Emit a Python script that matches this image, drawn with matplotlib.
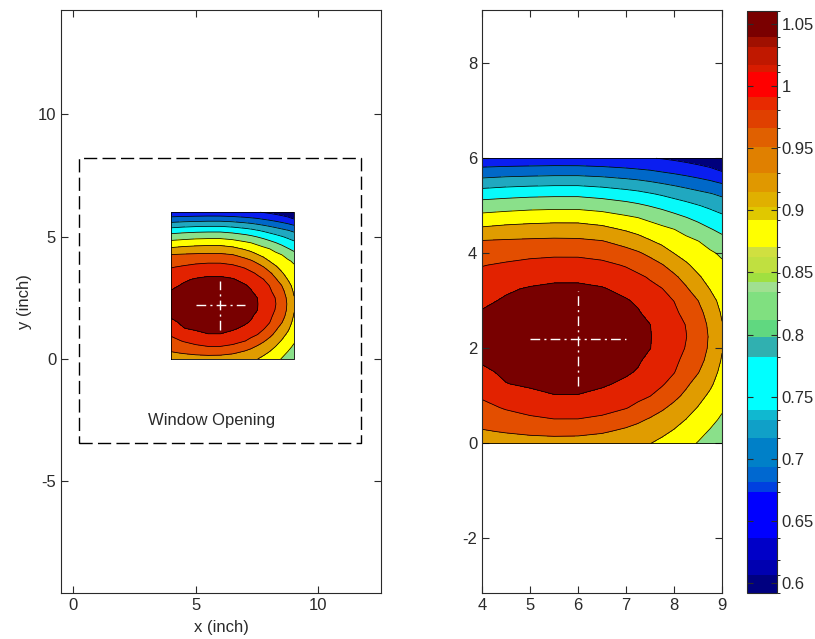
import numpy as np
import matplotlib
matplotlib.use("Agg")
import matplotlib.pyplot as plt
from matplotlib.colors import ListedColormap, BoundaryNorm
from matplotlib.cm import ScalarMappable

plt.rcParams["font.family"] = ["Liberation Sans", "DejaVu Sans"]
plt.rcParams["axes.unicode_minus"] = False

# ---- measured field, read off the picture: one list per x column,
#      values at y = 0, 0.25, ..., 6 inch (bottom to top) ----
x_grid = [4.0, 4.5, 5.0, 5.5, 6.0, 6.5, 7.0, 7.25, 7.5, 7.75, 8.0, 8.25, 8.5, 8.75, 9.0]
y_grid = [0.0, 0.25, 0.5, 0.75, 1.0, 1.25, 1.5, 1.75, 2.0, 2.25, 2.5, 2.75,
          3.0, 3.25, 3.5, 3.75, 4.0, 4.25, 4.5, 4.75, 5.0, 5.25, 5.5, 5.75, 6.0]
col_x400 = [0.930, 0.9516, 0.970, 0.9879, 1.0055, 1.0225, 1.0395, 1.0482, 1.0511,
            1.052, 1.0508, 1.0475, 1.0386, 1.0254, 1.0122, 0.9984, 0.9783, 0.9582,
            0.9187, 0.880, 0.8417, 0.7985, 0.7471, 0.6967, 0.650]
col_x450 = [0.935, 0.9578, 0.9813, 1.004, 1.0241, 1.0442, 1.0498, 1.0533, 1.0554,
            1.056, 1.0551, 1.0528, 1.0489, 1.0408, 1.0232, 1.0056, 0.9841, 0.9606,
            0.9255, 0.8859, 0.8464, 0.8043, 0.7536, 0.700, 0.652]
col_x500 = [0.938, 0.9631, 0.9919, 1.0156, 1.0372, 1.0492, 1.0544, 1.0582, 1.0603,
            1.061, 1.0601, 1.0576, 1.0536, 1.048, 1.0333, 1.0125, 0.9893, 0.9625,
            0.9289, 0.8907, 0.8505, 0.8083, 0.757, 0.7021, 0.653]
col_x550 = [0.937, 0.9675, 0.9988, 1.0216, 1.0441, 1.0517, 1.0572, 1.0611, 1.0633,
            1.064, 1.063, 1.0605, 1.0563, 1.0505, 1.0395, 1.0165, 0.9921, 0.964,
            0.9311, 0.8933, 0.8521, 0.8102, 0.7593, 0.7043, 0.653]
col_x600 = [0.936, 0.9666, 0.9987, 1.0216, 1.0441, 1.0519, 1.0575, 1.0615, 1.0638,
            1.0645, 1.0635, 1.0609, 1.0566, 1.0506, 1.0395, 1.0165, 0.9919, 0.9631,
            0.9305, 0.8933, 0.8521, 0.8102, 0.7593, 0.7043, 0.652]
col_x650 = [0.930, 0.960, 0.9913, 1.0153, 1.0365, 1.0492, 1.0549, 1.0589, 1.0613,
            1.062, 1.061, 1.0583, 1.054, 1.0479, 1.032, 1.0104, 0.9854, 0.9573,
            0.9227, 0.8852, 0.8457, 0.8031, 0.7536, 0.700, 0.650]
col_x700 = [0.922, 0.9463, 0.9739, 1.0022, 1.0207, 1.0391, 1.0491, 1.0536, 1.0562,
            1.057, 1.0559, 1.0529, 1.048, 1.0353, 1.0165, 0.9968, 0.970, 0.940,
            0.9059, 0.8718, 0.835, 0.793, 0.7443, 0.6932, 0.647]
col_x725 = [0.917, 0.9391, 0.9627, 0.9901, 1.0103, 1.0264, 1.0424, 1.0489, 1.0517,
            1.0525, 1.0514, 1.0482, 1.0398, 1.0235, 1.0072, 0.9857, 0.9601, 0.9285,
            0.8963, 0.865, 0.8275, 0.7867, 0.739, 0.689, 0.645]
col_x750 = [0.911, 0.931, 0.951, 0.9759, 1.001, 1.0131, 1.0252, 1.0373, 1.0457,
            1.0465, 1.0454, 1.0347, 1.0225, 1.0103, 0.9962, 0.9722, 0.946, 0.9139,
            0.8853, 0.8548, 0.8184, 0.7782, 0.7319, 0.6848, 0.642]
col_x775 = [0.8995, 0.9196, 0.9397, 0.9605, 0.9835, 1.0045, 1.0181, 1.0277, 1.0333,
            1.035, 1.0327, 1.0263, 1.0158, 1.0013, 0.9797, 0.9576, 0.929, 0.9008,
            0.8752, 0.8445, 0.8091, 0.7696, 0.7244, 0.6778, 0.638]
col_x800 = [0.888, 0.9063, 0.9258, 0.9455, 0.9649, 0.984, 1.0021, 1.0129, 1.0191,
            1.021, 1.0184, 1.0112, 0.9993, 0.9808, 0.9624, 0.9381, 0.910, 0.8879,
            0.8659, 0.8332, 0.7982, 0.760, 0.7169, 0.6712, 0.633]
col_x825 = [0.8755, 0.8924, 0.9093, 0.928, 0.9468, 0.9616, 0.9733, 0.985, 0.9975,
            1.0015, 0.9985, 0.983, 0.9715, 0.960, 0.941, 0.916, 0.8955, 0.8764,
            0.8525, 0.8213, 0.7882, 0.7509, 0.7084, 0.6642, 0.627]
col_x850 = [0.863, 0.8764, 0.8923, 0.9081, 0.9246, 0.9411, 0.9571, 0.9679, 0.9741,
            0.976, 0.9735, 0.9667, 0.9555, 0.9354, 0.9149, 0.898, 0.8821, 0.8663,
            0.8385, 0.8088, 0.7775, 0.7416, 0.6994, 0.6567, 0.620]
col_x875 = [0.847, 0.862, 0.8757, 0.8891, 0.9025, 0.9179, 0.9326, 0.943, 0.9492,
            0.951, 0.948, 0.9399, 0.9267, 0.909, 0.8963, 0.8837, 0.8711, 0.8507,
            0.8233, 0.7959, 0.7668, 0.7327, 0.6902, 0.6496, 0.608]
col_x900 = [0.830, 0.8446, 0.8592, 0.8704, 0.8794, 0.8884, 0.8974, 0.9064, 0.9125,
            0.914, 0.9119, 0.905, 0.8966, 0.8882, 0.8798, 0.8714, 0.8591, 0.8347,
            0.8098, 0.7842, 0.755, 0.7217, 0.6796, 0.6352, 0.595]

levels = [0.45, 0.64, 0.685, 0.73, 0.775, 0.82, 0.865, 0.91, 0.955, 1.0, 1.045, 1.08]
band_colors = ["#00007c", "#0a1ef0", "#0068c8", "#20a8c0", "#08fafa", "#8ae08a",
               "#ffff00", "#e09c00", "#e34e00", "#e22200", "#780000"]

# colorbar steps (value boundaries, bottom to top) and their colours
cbar_bounds = [0.592, 0.6064, 0.6184, 0.6362, 0.6732, 0.6812, 0.6933, 0.7167,
               0.7312, 0.7392, 0.7819, 0.798, 0.8117, 0.8342, 0.8423, 0.8495,
               0.8624, 0.8704, 0.8922, 0.9027, 0.9147, 0.930, 0.951, 0.9663,
               0.9808, 0.9912, 1.0113, 1.017, 1.0315, 1.0395, 1.0605]
cbar_colors = ["#000080", "#0000b0", "#0000c8", "#0000ff", "#0040e0", "#0068d0",
               "#0080c8", "#10a0c8", "#10b8d0", "#00ffff", "#30b0b0", "#60d880",
               "#80e080", "#a0e090", "#a0e040", "#c0e040", "#d0e040", "#ffff00",
               "#e0c800", "#e0b000", "#e09800", "#e08000", "#e06000", "#e04000",
               "#e82a00", "#ff0000", "#d81c00", "#c01800", "#a01000", "#7a0000"]
cbar_ticks = [0.6, 0.65, 0.7, 0.75, 0.8, 0.85, 0.9, 0.95, 1.0, 1.05]

# window opening outline (x0, x1, y0, y1) and crosshair arms
window = [0.25, 11.75, -3.44, 8.22]
cross_x = [5.0, 7.0]
cross_y = [1.2, 3.2]
cross_c = [6.0, 2.2]

Z = np.array([col_x400, col_x450, col_x500, col_x550, col_x600, col_x650,
              col_x700, col_x725, col_x750, col_x775, col_x800, col_x825,
              col_x850, col_x875, col_x900]).T

fig = plt.figure(figsize=(8.15, 6.39), dpi=100)
H = 639.0
W = 815.0
ax1 = fig.add_axes([61 / W, (H - 593) / H, 320 / W, 583 / H])
ax2 = fig.add_axes([482 / W, (H - 593) / H, 240 / W, 583 / H])
cax = fig.add_axes([747 / W, (H - 593) / H, 30 / W, 582 / H])

ink = "#2a2a2a"

def field(ax):
    ax.contourf(x_grid, y_grid, Z, levels=levels, colors=band_colors)
    ax.contour(x_grid, y_grid, Z, levels=levels[1:-1], colors="k", linewidths=0.55)
    xa, xb, ya, yb = x_grid[0], x_grid[-1], y_grid[0], y_grid[-1]
    ax.plot([xa, xb, xb, xa, xa], [ya, ya, yb, yb, ya], color="k", lw=0.6)
    ax.plot(cross_x, [cross_c[1]] * 2, color="white", lw=1.0,
            dashes=(7, 3, 1.5, 3))
    ax.plot([cross_c[0]] * 2, cross_y, color="white", lw=1.0,
            dashes=(7, 3, 1.5, 3))

def style(ax):
    ax.tick_params(direction="in", top=True, right=True, length=5, width=0.8,
                   color=ink, labelcolor=ink, labelsize=12)
    for s in ax.spines.values():
        s.set_color(ink)
        s.set_linewidth(0.8)

# left: full view with window opening
field(ax1)
x0, x1, y0, y1 = window
ax1.plot([x0, x1, x1, x0, x0], [y0, y0, y1, y1, y0], color="k", lw=1.0,
         dashes=(9.5, 3.8))
ax1.text(5.65, -2.5, "Window Opening", ha="center", va="center",
         fontsize=12, color=ink)
ax1.set_xlim(-0.5, 12.55)
ax1.set_ylim(-9.57, 14.27)
ax1.set_xticks([0, 5, 10])
ax1.set_yticks([-5, 0, 5, 10])
ax1.set_xlabel("x (inch)", fontsize=12, color=ink, labelpad=5)
ax1.set_ylabel("y (inch)", fontsize=12, color=ink, labelpad=4)
style(ax1)

# right: zoom on the measured area
field(ax2)
ax2.set_xlim(4, 9)
ax2.set_ylim(-3.15, 9.12)
ax2.set_xticks([4, 5, 6, 7, 8, 9])
ax2.set_yticks([-2, 0, 2, 4, 6, 8])
style(ax2)

sm = ScalarMappable(norm=BoundaryNorm(cbar_bounds, len(cbar_colors)),
                    cmap=ListedColormap(cbar_colors))
cb = fig.colorbar(sm, cax=cax, ticks=cbar_ticks, spacing="proportional")
cb.ax.set_yticklabels(["%g" % t for t in cbar_ticks])
cb.outline.set_edgecolor(ink)
cb.outline.set_linewidth(0.8)
cax.tick_params(direction="in", left=True, right=True, length=4, width=0.8,
                color=ink, labelcolor=ink, labelsize=12)

fig.savefig("out.png", dpi=100)
